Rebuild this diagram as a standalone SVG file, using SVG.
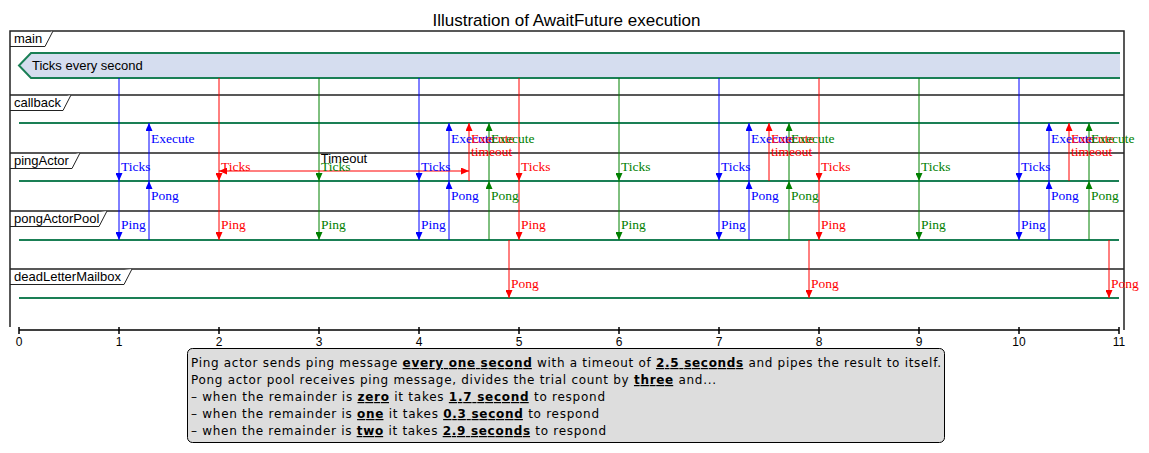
<svg xmlns="http://www.w3.org/2000/svg" width="1149" height="453" viewBox="0 0 1149 453">
<style>
.frame{fill:none;stroke:#222;stroke-width:1.5}
.tab{fill:#fff;stroke:#222;stroke-width:1}
.lane{fill:none;stroke:#1a7f55;stroke-width:2}
.lt{font-family:"Liberation Sans",Arial,sans-serif;font-size:13px;fill:#000}
.ml{font-family:"Liberation Serif","Times New Roman",serif;font-size:13.5px}
.b{stroke:#0000ff;stroke-width:1}
.r{stroke:#ff0000;stroke-width:1}
.g{stroke:#008000;stroke-width:1}
.tb{fill:#0000ff}.tr{fill:#ff0000}.tg{fill:#008000}
.ax{fill:none;stroke:#000;stroke-width:1.5}
.axl{font-family:"Liberation Sans",Arial,sans-serif;font-size:12px;text-anchor:middle}
.note{font-family:"DejaVu Sans","Liberation Sans",sans-serif;font-size:12px;fill:#000}
.u{font-weight:bold;text-decoration:underline}
</style>
<defs>
<marker id="mb" viewBox="0 0 8 7" refX="8" refY="3.5" markerWidth="8" markerHeight="7" markerUnits="userSpaceOnUse" orient="auto"><path d="M0,0L8,3.5L0,7z" fill="#0000ff"/></marker>
<marker id="mr" viewBox="0 0 8 7" refX="8" refY="3.5" markerWidth="8" markerHeight="7" markerUnits="userSpaceOnUse" orient="auto-start-reverse"><path d="M0,0L8,3.5L0,7z" fill="#ff0000"/></marker>
<marker id="mg" viewBox="0 0 8 7" refX="8" refY="3.5" markerWidth="8" markerHeight="7" markerUnits="userSpaceOnUse" orient="auto"><path d="M0,0L8,3.5L0,7z" fill="#008000"/></marker>
</defs>
<rect width="1149" height="453" fill="#fff"/>
<text x="566.5" y="26" text-anchor="middle" font-family="Liberation Sans, Arial, sans-serif" font-size="17">Illustration of AwaitFuture execution</text>

<g id="frame">
<path class="frame" d="M10,327V31H1124V330"/>
<path class="frame" d="M10,95H1124M10,153H1124M10,211H1124M10,269H1124"/>
</g>

<g id="main">
<path class="tab" d="M10,46.5H45L53,31"/>
<text class="lt" x="14" y="43">main</text>
<path d="M1120,53H31L19,65.5L31,78H1120" fill="#d5ddef" stroke="#1a7f55" stroke-width="2"/>
<text class="lt" x="32" y="70">Ticks every second</text>
</g>

<g id="callback">
<path class="tab" d="M10,110.5H63L71,95"/>
<text class="lt" x="14" y="107">callback</text>
<line class="lane" x1="19" y1="123" x2="1119" y2="123"/>
</g>

<g id="pingActor">
<path class="tab" d="M10,168.5H72L80,153"/>
<text class="lt" x="14" y="165">pingActor</text>
<line class="lane" x1="19" y1="181" x2="1119" y2="181"/>
</g>

<g id="pongActorPool">
<path class="tab" d="M10,226.5H99L107,211"/>
<text class="lt" x="14" y="223">pongActorPool</text>
<line class="lane" x1="19" y1="240" x2="1119" y2="240"/>
</g>

<g id="deadLetterMailbox">
<path class="tab" d="M10,284.5H124L132,269"/>
<text class="lt" x="14" y="281">deadLetterMailbox</text>
<line class="lane" x1="19" y1="298" x2="1119" y2="298"/>
</g>

<g id="connectors">
<!-- blue cycles -->
<g marker-end="url(#mb)">
<line class="b" x1="119" y1="78" x2="119" y2="181"/><line class="b" x1="119" y1="181" x2="119" y2="240"/>
<line class="b" x1="149" y1="240" x2="149" y2="181"/><line class="b" x1="149" y1="181" x2="149" y2="123"/>
<line class="b" x1="419" y1="78" x2="419" y2="181"/><line class="b" x1="419" y1="181" x2="419" y2="240"/>
<line class="b" x1="449" y1="240" x2="449" y2="181"/><line class="b" x1="449" y1="181" x2="449" y2="123"/>
<line class="b" x1="719" y1="78" x2="719" y2="181"/><line class="b" x1="719" y1="181" x2="719" y2="240"/>
<line class="b" x1="749" y1="240" x2="749" y2="181"/><line class="b" x1="749" y1="181" x2="749" y2="123"/>
<line class="b" x1="1019" y1="78" x2="1019" y2="181"/><line class="b" x1="1019" y1="181" x2="1019" y2="240"/>
<line class="b" x1="1049" y1="240" x2="1049" y2="181"/><line class="b" x1="1049" y1="181" x2="1049" y2="123"/>
</g>
<!-- red cycles -->
<g marker-end="url(#mr)">
<line class="r" x1="219" y1="78" x2="219" y2="181"/><line class="r" x1="219" y1="181" x2="219" y2="240"/>
<line class="r" x1="469" y1="181" x2="469" y2="123"/><line class="r" x1="509" y1="240" x2="509" y2="298"/>
<line class="r" x1="519" y1="78" x2="519" y2="181"/><line class="r" x1="519" y1="181" x2="519" y2="240"/>
<line class="r" x1="769" y1="181" x2="769" y2="123"/><line class="r" x1="809" y1="240" x2="809" y2="298"/>
<line class="r" x1="819" y1="78" x2="819" y2="181"/><line class="r" x1="819" y1="181" x2="819" y2="240"/>
<line class="r" x1="1069" y1="181" x2="1069" y2="123"/><line class="r" x1="1109" y1="240" x2="1109" y2="298"/>
</g>
<!-- green cycles -->
<g marker-end="url(#mg)">
<line class="g" x1="319" y1="78" x2="319" y2="181"/><line class="g" x1="319" y1="181" x2="319" y2="240"/>
<line class="g" x1="489" y1="240" x2="489" y2="181"/><line class="g" x1="489" y1="181" x2="489" y2="123"/>
<line class="g" x1="619" y1="78" x2="619" y2="181"/><line class="g" x1="619" y1="181" x2="619" y2="240"/>
<line class="g" x1="789" y1="240" x2="789" y2="181"/><line class="g" x1="789" y1="181" x2="789" y2="123"/>
<line class="g" x1="919" y1="78" x2="919" y2="181"/><line class="g" x1="919" y1="181" x2="919" y2="240"/>
<line class="g" x1="1089" y1="240" x2="1089" y2="181"/><line class="g" x1="1089" y1="181" x2="1089" y2="123"/>
</g>
<!-- timeout constraint -->
<line class="r" x1="219" y1="171" x2="469" y2="171" marker-start="url(#mr)" marker-end="url(#mr)"/>
<text class="lt" x="344" y="163" text-anchor="middle">Timeout</text>

<g class="ml tb">
<text x="121" y="171">Ticks</text><text x="121" y="229">Ping</text><text x="151" y="200">Pong</text><text x="151" y="143">Execute</text>
<text x="421" y="171">Ticks</text><text x="421" y="229">Ping</text><text x="451" y="200">Pong</text><text x="451" y="143">Execute</text>
<text x="721" y="171">Ticks</text><text x="721" y="229">Ping</text><text x="751" y="200">Pong</text><text x="751" y="143">Execute</text>
<text x="1021" y="171">Ticks</text><text x="1021" y="229">Ping</text><text x="1051" y="200">Pong</text><text x="1051" y="143">Execute</text>
</g>
<g class="ml tr">
<text x="221" y="171">Ticks</text><text x="221" y="229">Ping</text><text x="471" y="143">Execute</text><text x="471" y="156">timeout</text><text x="511" y="288">Pong</text>
<text x="521" y="171">Ticks</text><text x="521" y="229">Ping</text><text x="771" y="143">Execute</text><text x="771" y="156">timeout</text><text x="811" y="288">Pong</text>
<text x="821" y="171">Ticks</text><text x="821" y="229">Ping</text><text x="1071" y="143">Execute</text><text x="1071" y="156">timeout</text><text x="1111" y="288">Pong</text>
</g>
<g class="ml tg">
<text x="321" y="171">Ticks</text><text x="321" y="229">Ping</text><text x="491" y="200">Pong</text><text x="491" y="143">Execute</text>
<text x="621" y="171">Ticks</text><text x="621" y="229">Ping</text><text x="791" y="200">Pong</text><text x="791" y="143">Execute</text>
<text x="921" y="171">Ticks</text><text x="921" y="229">Ping</text><text x="1091" y="200">Pong</text><text x="1091" y="143">Execute</text>
</g>
</g>

<g id="axis">
<path class="ax" d="M19,330H1119M19,327V334M119,327V334M219,327V334M319,327V334M419,327V334M519,327V334M619,327V334M719,327V334M819,327V334M919,327V334M1019,327V334M1119,327V334"/>
<text class="axl" x="19" y="346">0</text><text class="axl" x="119" y="346">1</text><text class="axl" x="219" y="346">2</text><text class="axl" x="319" y="346">3</text><text class="axl" x="419" y="346">4</text><text class="axl" x="519" y="346">5</text><text class="axl" x="619" y="346">6</text><text class="axl" x="719" y="346">7</text><text class="axl" x="819" y="346">8</text><text class="axl" x="919" y="346">9</text><text class="axl" x="1019" y="346">10</text><text class="axl" x="1119" y="346">11</text>
</g>

<g id="note">
<rect x="187.5" y="348.5" width="757" height="94" rx="5" fill="#dddddd" stroke="#000" stroke-width="1"/>
<text class="note" x="191" y="367" textLength="750">Ping actor sends ping message <tspan class="u">every one second</tspan> with a timeout of <tspan class="u">2.5 seconds</tspan> and pipes the result to itself.</text>
<text class="note" x="191" y="384" textLength="525">Pong actor pool receives ping message, divides the trial count by <tspan class="u">three</tspan> and...</text>
<text class="note" x="191" y="401" textLength="414">– when the remainder is <tspan class="u">zero</tspan> it takes <tspan class="u">1.7 second</tspan> to respond</text>
<text class="note" x="191" y="418" textLength="408">– when the remainder is <tspan class="u">one</tspan> it takes <tspan class="u">0.3 second</tspan> to respond</text>
<text class="note" x="191" y="435" textLength="415">– when the remainder is <tspan class="u">two</tspan> it takes <tspan class="u">2.9 seconds</tspan> to respond</text>
</g>
</svg>
